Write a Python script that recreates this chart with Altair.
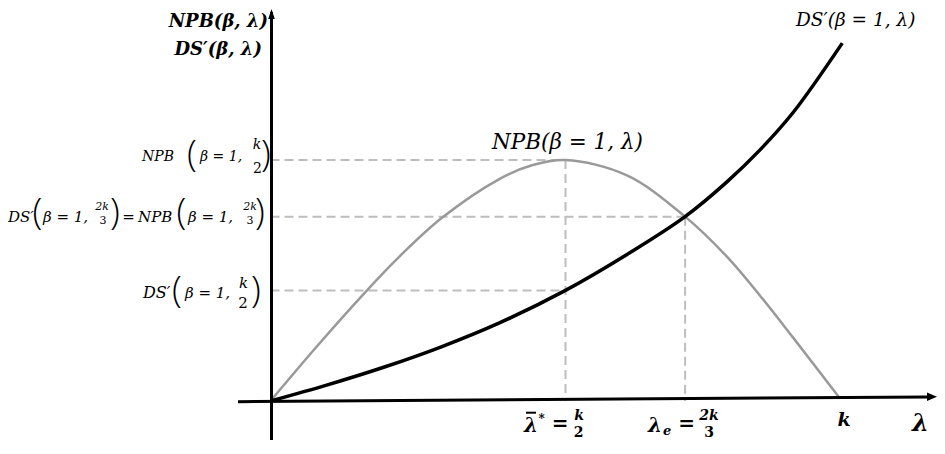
import altair as alt
import pandas as pd

# ---------------- data (lambda in % of k, values in % of NPB peak) -------------
lam_npb = [0, 7.9, 16.7, 22.5, 30.1, 40.1, 45.9, 51.8, 62.6, 72.8, 80.1, 86.0, 91.8, 100]
npb_vals = [0, 22.0, 45.3, 59.6, 76.0, 92.0, 97.8, 100, 93.6, 76.5, 60.0, 43.6, 26.2, 1.0]

lam_ds = [0, 10, 20, 30, 40, 51.8, 62.6, 72.8, 80.1, 86.0, 91.8, 100.4]
ds_vals = [0, 6.7, 14.1, 22.5, 32.2, 45.9, 60.8, 76.5, 90.8, 104.3, 119.8, 148.5]

lam_star = 51.8     # k/2 in the sketch
lam_e = 72.8        # 2k/3 in the sketch
npb_peak = 100.0
ds_half = 45.9
cross_val = 76.5

# ---------------- layout ---------------------------------------------------------------
W, H = 929, 432
X0_PX, XK_PX = 270.5, 840.0
Y0_PX, YP_PX = 401.0, 160.0
sx = (XK_PX - X0_PX) / 100.0
sy = (Y0_PX - YP_PX) / 100.0


def px2x(px):
    return (px - X0_PX) / sx


def py2y(py):
    return (Y0_PX - py) / sy


xs = alt.Scale(domain=[px2x(8), px2x(8 + W)], nice=False, zero=False)
ys = alt.Scale(domain=[py2y(8 + H), py2y(8)], nice=False, zero=False)

SERIF = "DejaVu Serif"
PAREN = "Open Sans"

layers = []

# dashed guides
guides = pd.DataFrame({
    "x": [0, 0, 0, lam_star, lam_e],
    "x2": [lam_star, lam_e, lam_star, lam_star, lam_e],
    "y": [npb_peak, cross_val, ds_half, npb_peak, cross_val],
    "y2": [npb_peak, cross_val, ds_half, 0, 0],
})
layers.append(
    alt.Chart(guides).mark_rule(color="#bdbdbd", strokeWidth=2, strokeDash=[9, 5]).encode(
        x=alt.X("x:Q", scale=xs, axis=None),
        x2="x2:Q",
        y=alt.Y("y:Q", scale=ys, axis=None),
        y2="y2:Q",
    )
)

# curves
npb_df = pd.DataFrame({"lam": lam_npb, "v": npb_vals})
ds_df = pd.DataFrame({"lam": lam_ds, "v": ds_vals})
layers.append(
    alt.Chart(npb_df).mark_line(color="#999999", strokeWidth=2.5, interpolate="catmull-rom").encode(
        x=alt.X("lam:Q", scale=xs, axis=None), y=alt.Y("v:Q", scale=ys, axis=None), order="lam:Q"
    )
)
layers.append(
    alt.Chart(ds_df).mark_line(color="black", strokeWidth=3.5, interpolate="catmull-rom").encode(
        x=alt.X("lam:Q", scale=xs, axis=None), y=alt.Y("v:Q", scale=ys, axis=None), order="lam:Q"
    )
)


def T(s, x, y, size, align="left", baseline="alphabetic", bold=False, italic=True,
      font=SERIF, weight=None):
    w = weight if weight is not None else ("bold" if bold else "normal")
    return alt.Chart(pd.DataFrame({"t": [s]})).mark_text(
        text=s, align=align, baseline=baseline, fontSize=size, font=font,
        fontStyle="italic" if italic else "normal", fontWeight=w, color="black",
    ).encode(x=alt.value(x - 8), y=alt.value(y - 8))


def P(s, x, yc, size):
    return T(s, x, yc, size, align="center", baseline="middle", italic=False, font=PAREN, weight=300)


# ---- row 1: NPB(beta=1, k/2)
layers += [
    T("NPB", 174, 161, 14, align="right"),
    P("(", 192, 155, 36),
    T("β = 1,", 200, 161, 14),
    T("k", 257, 149, 14, align="center"),
    T("2", 257.5, 173, 14, align="center", italic=False),
    P(")", 266, 155, 36),
]

# ---- row 2: DS'(beta=1,2k/3) = NPB(beta=1,2k/3)
layers += [
    T("DS′", 8, 221.5, 15),
    P("(", 37.5, 213, 36),
    T("β = 1,", 43, 221.5, 15),
    T("2k", 102, 209.5, 11, align="center"),
    T("3", 103, 224, 11, align="center", italic=False),
    P(")", 115, 213, 36),
    T("=", 128.5, 221.5, 15, align="center", italic=False),
    T("NPB", 138, 221.5, 15),
    P("(", 181.5, 213, 36),
    T("β = 1,", 188, 221.5, 15),
    T("2k", 250, 209.5, 11, align="center"),
    T("3", 250, 224, 11, align="center", italic=False),
    P(")", 260, 213, 36),
]

# ---- row 3: DS'(beta=1, k/2)
layers += [
    T("DS′", 143, 298, 16),
    P("(", 177, 291, 36),
    T("β = 1,", 185, 298, 15),
    T("k", 243.5, 288, 15, align="center"),
    T("2", 243, 308, 15, align="center", italic=False),
    P(")", 256, 291, 36),
]

# ---- axes
xaxis = pd.DataFrame({"x": [px2x(238), px2x(928)], "y": [py2y(401.7), py2y(396.9)]})
yaxis = pd.DataFrame({"x": [px2x(271.5), px2x(271.5)], "y": [py2y(452), py2y(12)]})
for d in (xaxis, yaxis):
    layers.append(
        alt.Chart(d).mark_line(color="black", strokeWidth=3, clip=False).encode(
            x=alt.X("x:Q", scale=xs, axis=None), y=alt.Y("y:Q", scale=ys, axis=None)
        )
    )
arrows = pd.DataFrame({"x": [px2x(937)], "y": [py2y(396.8)]})
layers.append(
    alt.Chart(arrows).mark_point(
        shape="M -1 -0.42 L 0 0 L -1 0.42 Z", size=400, filled=True, color="black", opacity=1, clip=False
    ).encode(x=alt.X("x:Q", scale=xs, axis=None), y=alt.Y("y:Q", scale=ys, axis=None))
)
arrows_y = pd.DataFrame({"x": [px2x(271.5)], "y": [py2y(9)]})
layers.append(
    alt.Chart(arrows_y).mark_point(
        shape="M -0.33 1 L 0 0 L 0.33 1 Z", size=400, filled=True, color="black", opacity=1, clip=False
    ).encode(x=alt.X("x:Q", scale=xs, axis=None), y=alt.Y("y:Q", scale=ys, axis=None))
)

# ---- y-axis titles
layers += [
    T("NPB(β, λ)", 268, 27, 18, align="right", bold=True),
    T("DS′(β, λ)", 262, 55, 18, align="right", bold=True),
]

# ---- x-axis labels (bold)
bar = pd.DataFrame({"x": [px2x(526)], "x2": [px2x(536)], "y": [py2y(412.7)]})
layers.append(
    alt.Chart(bar).mark_rule(color="black", strokeWidth=2).encode(
        x=alt.X("x:Q", scale=xs, axis=None), x2="x2:Q", y=alt.Y("y:Q", scale=ys, axis=None)
    )
)
layers += [
    T("λ", 524, 431.5, 20, bold=True),
    T("*", 538.5, 423, 12, bold=True, italic=False),
    T("=", 560, 430, 20, align="center", bold=True, italic=False),
    T("k", 579, 419.5, 14, align="center", bold=True),
    T("2", 578.5, 437, 14, align="center", bold=True, italic=False),
    T("λ", 648, 431.5, 20, bold=True),
    T("e", 663, 434.5, 13, bold=True),
    T("=", 686.5, 430, 20, align="center", bold=True, italic=False),
    T("2k", 709, 419.5, 14, align="center", bold=True),
    T("3", 709, 437, 14, align="center", bold=True, italic=False),
    T("k", 844, 426, 19, align="center", bold=True),
    T("λ", 920.5, 431, 24, align="center", bold=True),
]

# ---- curve labels
layers += [
    T("NPB(β = 1, λ)", 492, 149, 21.5),
    T("DS′(β = 1, λ)", 796, 26, 18.5),
]

chart = alt.layer(*layers).properties(
    width=W, height=H, autosize="none", padding=0,
).configure_view(stroke=None)

chart.save("out.html", embed_options={"renderer": "svg", "actions": False})
